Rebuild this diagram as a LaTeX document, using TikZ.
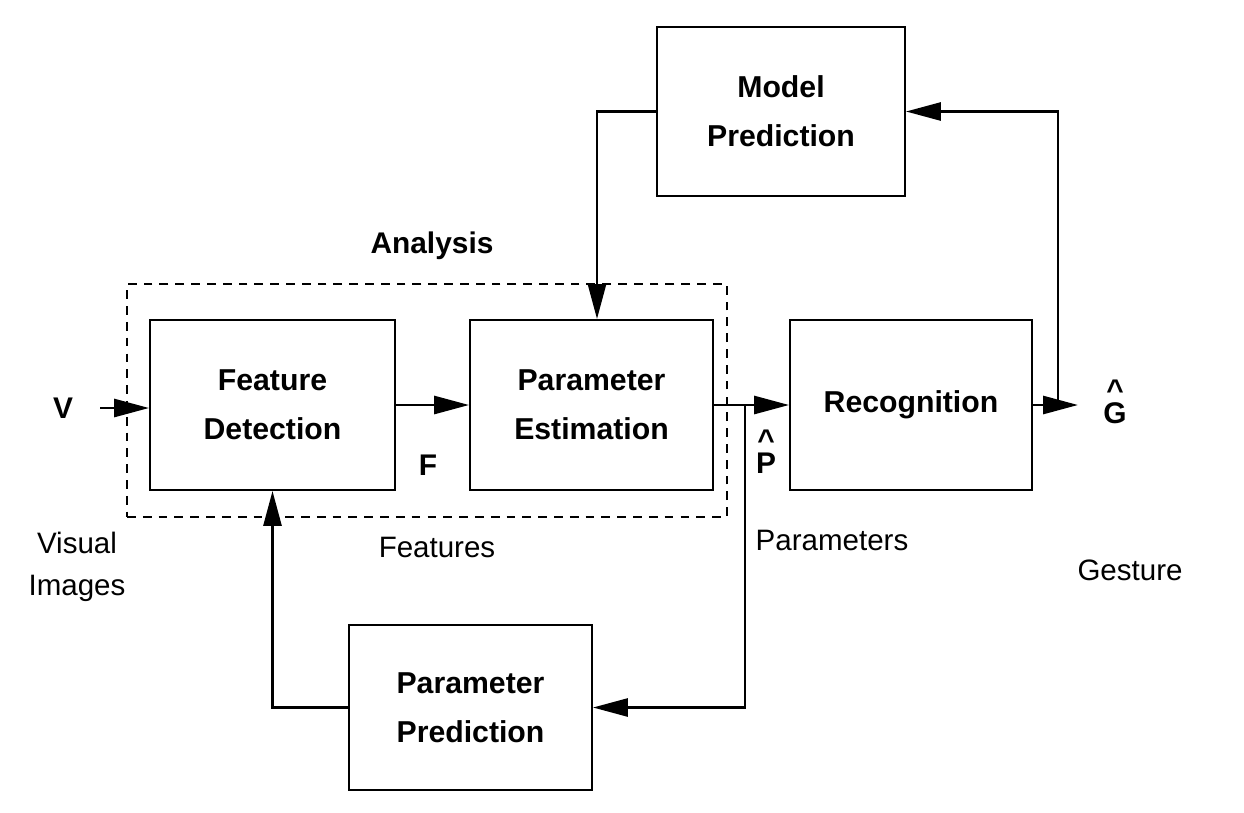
\documentclass[tikz,border=0pt]{standalone}
\usepackage{fontspec}
\setmainfont{Liberation Sans}
\usetikzlibrary{arrows.meta}

\begin{document}
\begin{tikzpicture}[
  x=0.02cm, y=-0.02cm,
  font=\fontsize{16}{20}\selectfont,
  blk/.style={draw=black, line width=1.1pt, align=center,
              font=\fontsize{17.2}{28}\selectfont\bfseries},
  dashbox/.style={draw=black, line width=0.8pt, dash pattern=on 5pt off 4pt},
  lbl/.style={font=\fontsize{17}{20}\selectfont\bfseries},
  hatlbl/.style={align=center, font=\fontsize{17}{20}\selectfont\bfseries},
  txt/.style={align=center, font=\fontsize{16.8}{24}\selectfont},
  arr/.style={-{Triangle[length=0.7cm, width=0.36cm]}, line width=1.6pt}
]
\useasboundingbox (0,0) rectangle (1244,812);

% ---- analysis group
\node[dashbox, minimum width=12cm, minimum height=4.66cm] (ana) at (427,400.5) {};
\node[lbl] (anat) at (432,246) {Analysis};

% ---- blocks
\node[blk, minimum width=4.96cm, minimum height=3.38cm] (mp) at (781,111.5) {Model\\Prediction};
\node[blk, minimum width=4.9cm, minimum height=3.4cm] (fd) at (272.5,405) {Feature\\Detection};
\node[blk, minimum width=4.86cm, minimum height=3.4cm] (pe) at (591.5,405) {Parameter\\Estimation};
\node[blk, minimum width=4.84cm, minimum height=3.4cm] (rec) at (911,405) {Recognition};
\node[blk, minimum width=4.86cm, minimum height=3.3cm] (pp) at (470.5,707.5) {Parameter\\Prediction};

% ---- symbols and captions
\node[lbl] (v) at (63,408) {V};
\node[lbl] (f) at (428,465) {F};
\node[hatlbl] (p) at (766,452) {\^{}\\[-7pt]P};
\node[hatlbl] (g) at (1115,402) {\^{}\\[-7pt]G};
\node[txt] (vis) at (77,567) {Visual\\Images};
\node[txt] (feat) at (437,547) {Features};
\node[txt] (par) at (832,540) {Parameters};
\node[txt] (ges) at (1130,570) {Gesture};

% ---- connectors
\coordinate (vin) at (100,408);
\coordinate (gout) at (1078,405);
\coordinate (gtap) at (1058,405);
\coordinate (ptap) at (745,405);
\draw[arr] (vin) -- (vin -| fd.west);
\draw[arr] (fd.east) -- (pe.west);
\draw[arr] (pe.east) -- (rec.west);
\draw[arr] (rec.east) -- (gout);
\draw[arr] (gtap) |- (mp.east);
\draw[arr] (mp.west) -| ([xshift=0.11cm]pe.north);
\draw[arr] (ptap) |- (pp.east);
\draw[arr] (pp.west) -| (fd.south);
\end{tikzpicture}
\end{document}
